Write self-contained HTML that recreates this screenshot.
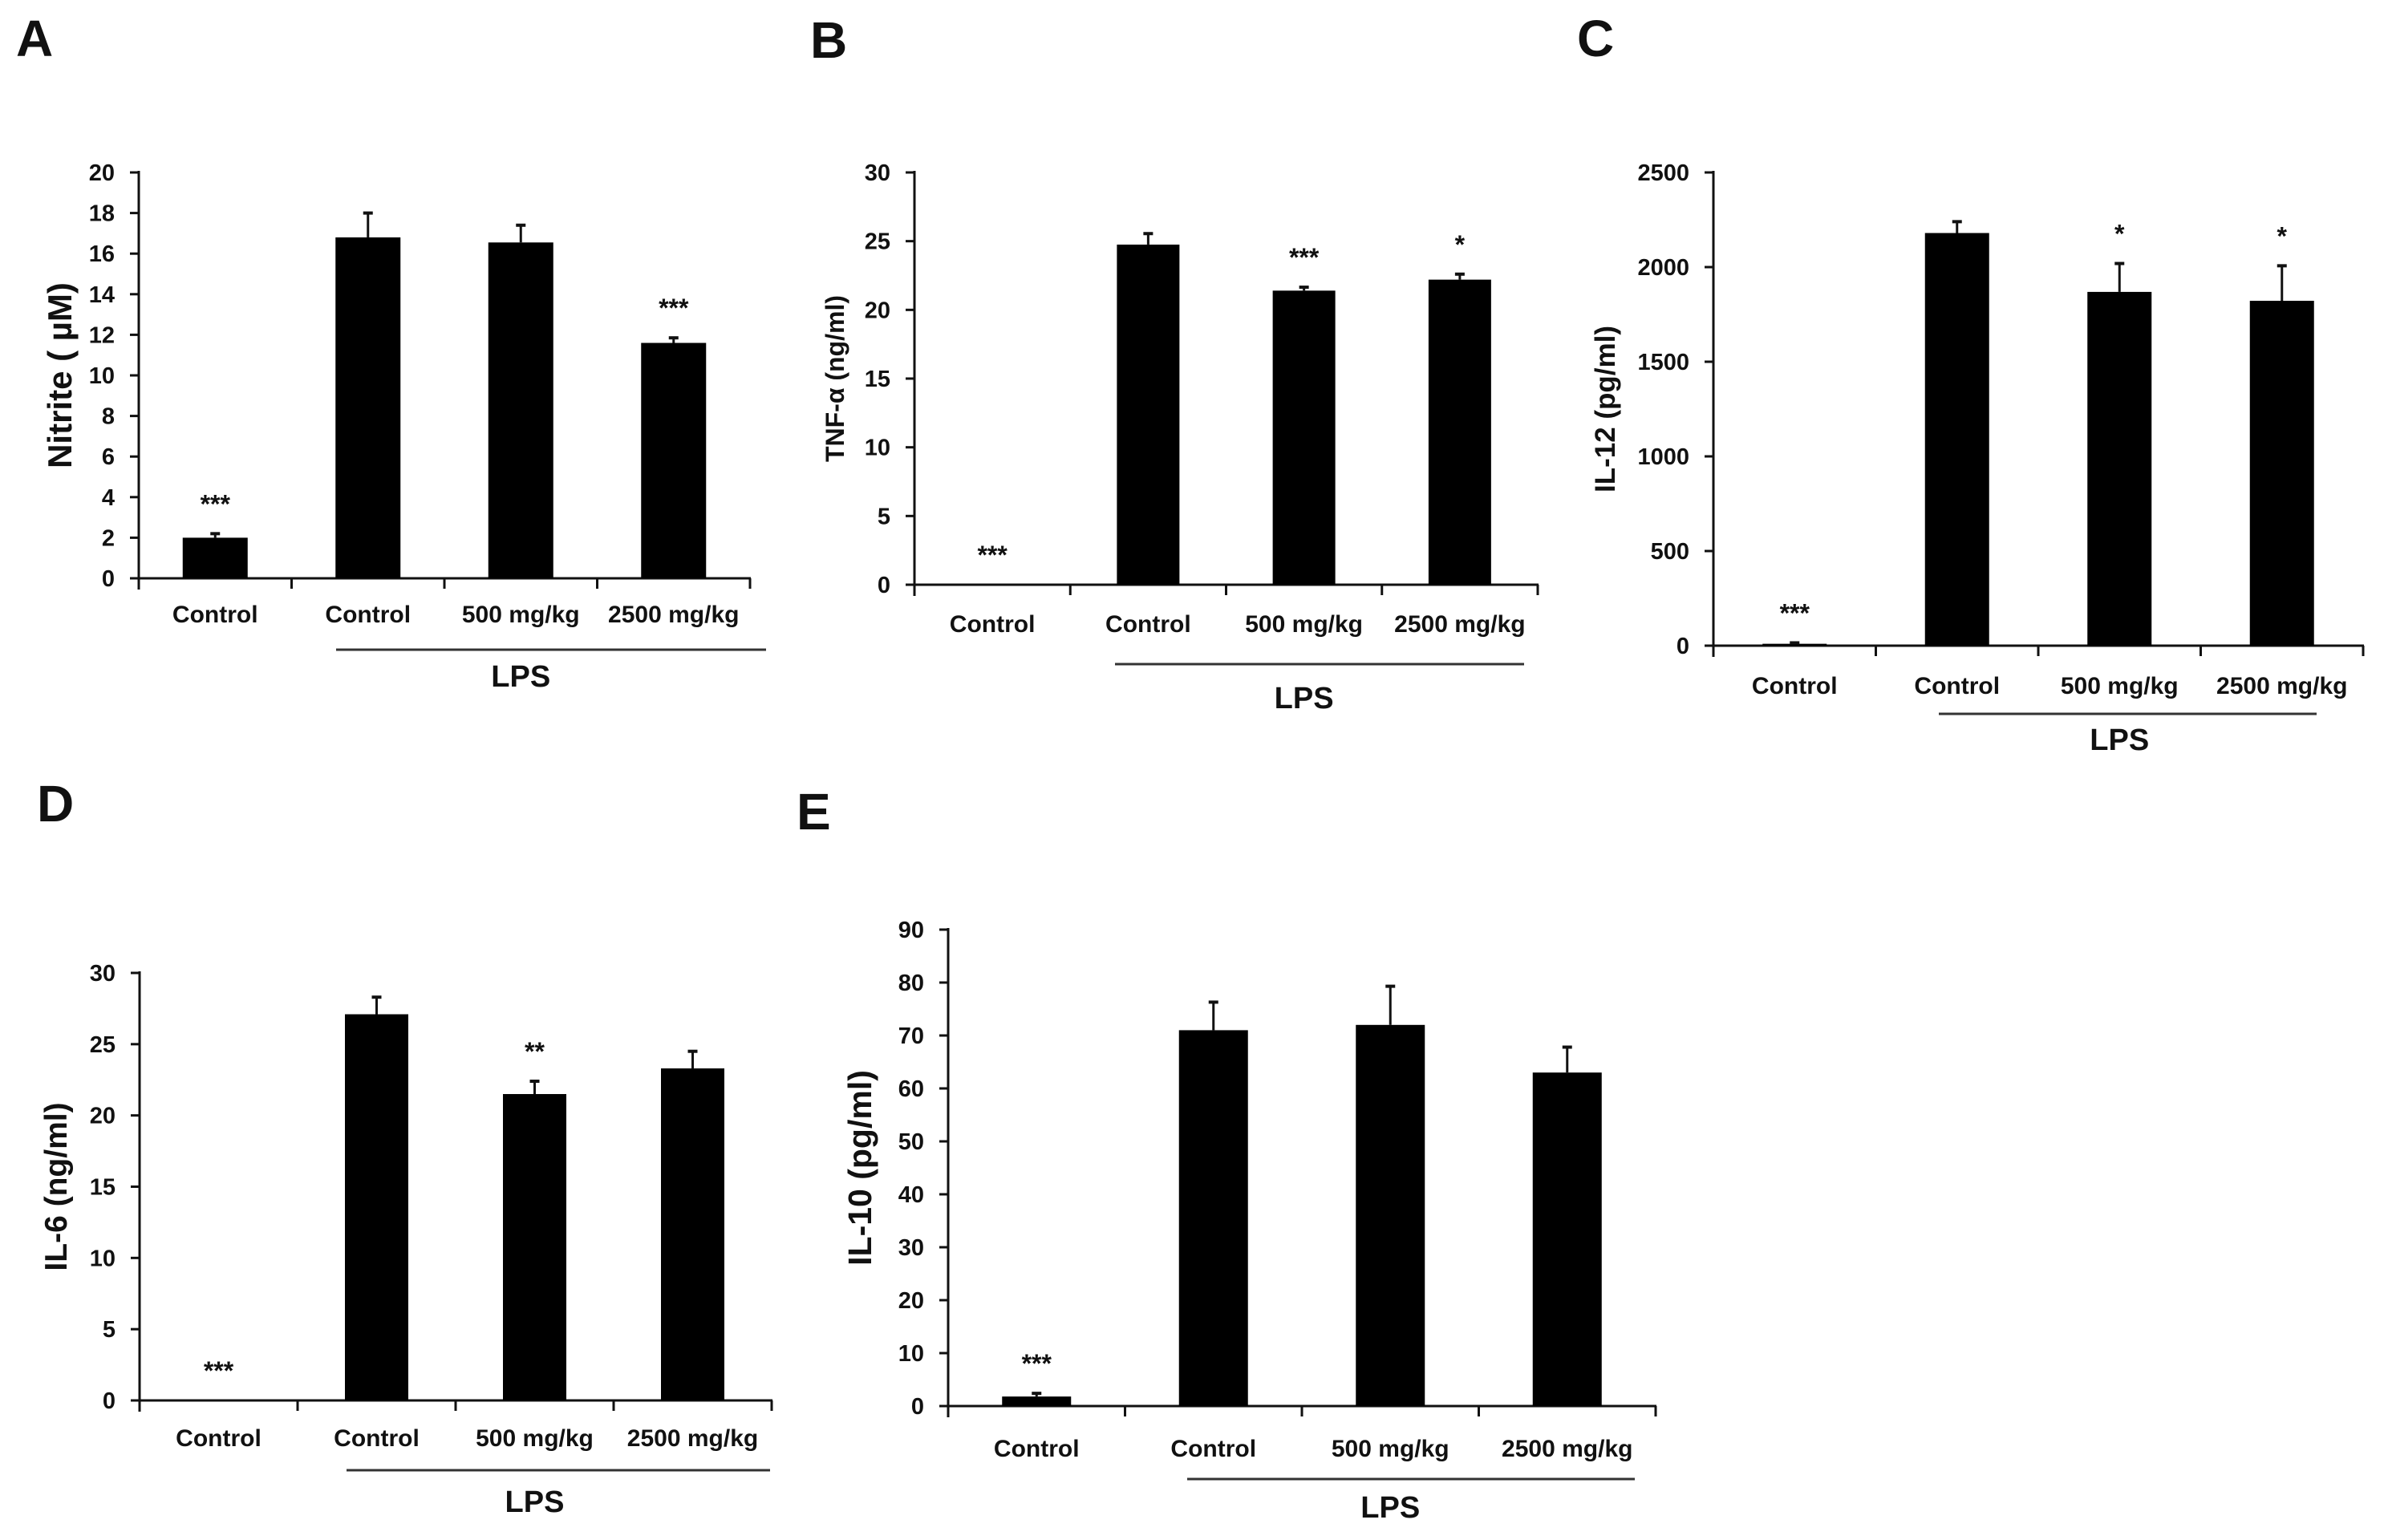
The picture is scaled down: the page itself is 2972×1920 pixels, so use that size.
<!DOCTYPE html>
<html><head><meta charset="utf-8"><title>Cytokine panels</title>
<style>
html,body{margin:0;padding:0;background:#fff;}
svg{display:block;}
text{font-family:"Liberation Sans",Arial,sans-serif;font-weight:bold;fill:#111;}
</style></head>
<body>
<svg id="fig" xmlns="http://www.w3.org/2000/svg" width="2972" height="1920" viewBox="0 0 2972 1920"></svg>
<script>
// ----- data -----
const categories = ["Control", "Control", "500 mg/kg", "2500 mg/kg"];
const groupLabel = "LPS";

const nitriteValues = [2.0, 16.8, 16.55, 11.6];
const nitriteErrors = [0.2, 1.2, 0.85, 0.25];
const nitriteStars = ["***", "", "", "***"];
const nitriteTicks = [0, 2, 4, 6, 8, 10, 12, 14, 16, 18, 20];

const tnfValues = [0, 24.75, 21.4, 22.2];
const tnfErrors = [0, 0.8, 0.25, 0.4];
const tnfStars = ["***", "", "***", "*"];
const tnfTicks = [0, 5, 10, 15, 20, 25, 30];

const il12Values = [10, 2180, 1869, 1822];
const il12Errors = [5, 60, 150, 185];
const il12Stars = ["***", "", "*", "*"];
const il12Ticks = [0, 500, 1000, 1500, 2000, 2500];

const il6Values = [0, 27.1, 21.5, 23.3];
const il6Errors = [0, 1.2, 0.9, 1.2];
const il6Stars = ["***", "", "**", ""];
const il6Ticks = [0, 5, 10, 15, 20, 25, 30];

const il10Values = [1.8, 71, 72, 63];
const il10Errors = [0.6, 5.3, 7.3, 4.8];
const il10Stars = ["***", "", "", ""];
const il10Ticks = [0, 10, 20, 30, 40, 50, 60, 70, 80, 90];

// ----- layout -----
const panels = [
  {id:"a", letter:"A", lx:20, ly:70, title:"Nitrite ( \u00b5M)", titleX:77, titleSize:42,
   x0:173, x1:935, y0:721, y1:215, barW:81, values:nitriteValues, errors:nitriteErrors, stars:nitriteStars, ticks:nitriteTicks,
   labelY:776, lpsY:810, lpsX0:419, lpsX1:955, lpsTextY:856},
  {id:"b", letter:"B", lx:1010, ly:72, title:"TNF-\u03b1 (ng/ml)", titleX:1040, titleSize:32,
   x0:1140, x1:1917, y0:729, y1:215, barW:78, values:tnfValues, errors:tnfErrors, stars:tnfStars, ticks:tnfTicks,
   labelY:788, lpsY:828, lpsX0:1390, lpsX1:1900, lpsTextY:883},
  {id:"c", letter:"C", lx:1966, ly:70, title:"IL-12 (pg/ml)", titleX:2001, titleSize:35,
   x0:2136, x1:2946, y0:805, y1:215, barW:80, values:il12Values, errors:il12Errors, stars:il12Stars, ticks:il12Ticks,
   labelY:865, lpsY:890, lpsX0:2417, lpsX1:2888, lpsTextY:935},
  {id:"d", letter:"D", lx:46, ly:1024, title:"IL-6 (ng/ml)", titleX:71, titleSize:39,
   x0:174, x1:962, y0:1746, y1:1213, barW:79, values:il6Values, errors:il6Errors, stars:il6Stars, ticks:il6Ticks,
   labelY:1803, lpsY:1833, lpsX0:432, lpsX1:960, lpsTextY:1885},
  {id:"e", letter:"E", lx:993, ly:1034, title:"IL-10 (pg/ml)", titleX:1074, titleSize:41,
   x0:1182, x1:2064, y0:1753, y1:1159, barW:86, values:il10Values, errors:il10Errors, stars:il10Stars, ticks:il10Ticks,
   labelY:1816, lpsY:1844, lpsX0:1480, lpsX1:2038, lpsTextY:1892}
];

const NS = "http://www.w3.org/2000/svg";
const svg = document.getElementById("fig");
function mk(tag, attrs, parent){
  const e = document.createElementNS(NS, tag);
  for (const k in attrs) e.setAttribute(k, attrs[k]);
  (parent||svg).appendChild(e);
  return e;
}

panels.forEach(p => {
  const g = mk("g", {});
  
  
  const maxT = p.ticks[p.ticks.length-1];
  const yScale = v => p.y0 - (v / maxT) * (p.y0 - p.y1);
  const catW = (p.x1 - p.x0) / categories.length;
  const xCenter = i => p.x0 + catW * (i + 0.5);

  const letter = mk("text", {x:p.lx, y:p.ly, "font-size":64}, g);
  letter.textContent = p.letter;
  
  

  // y axis
  const ya = mk("line", {x1:p.x0, y1:p.y1-2, x2:p.x0, y2:p.y0+14, stroke:"#111", "stroke-width":3}, g);
  
  
  p.ticks.forEach(t => {
    const y = yScale(t);
    const tk = mk("line", {x1:p.x0-11, y1:y, x2:p.x0, y2:y, stroke:"#111", "stroke-width":3}, g);
    
    
    const tl = mk("text", {x:p.x0-30, y:y+10, "font-size":29, "text-anchor":"end"}, g);
    tl.textContent = t;
    
    
  });
  const ty = (p.y0 + p.y1) / 2;
  const title = mk("text", {x:p.titleX, y:ty, "font-size":p.titleSize, "text-anchor":"middle", transform:"rotate(-90 "+p.titleX+" "+ty+") translate(0 12)"}, g);
  title.textContent = p.title;
  
  

  // x axis
  const xa = mk("line", {x1:p.x0, y1:p.y0, x2:p.x1+1, y2:p.y0, stroke:"#111", "stroke-width":3}, g);
  
  
  for (let i = 1; i <= categories.length; i++) {
    const x = p.x0 + catW * i;
    const tk = mk("line", {x1:x, y1:p.y0, x2:x, y2:p.y0+13, stroke:"#111", "stroke-width":3}, g);
    
    
  }

  categories.forEach((c, i) => {
    const cx = xCenter(i);
    const v = p.values[i], e = p.errors[i];
    if (v > 0) {
      const top = yScale(v);
      const bar = mk("rect", {x:cx - p.barW/2, y:top, width:p.barW, height:p.y0 - top, fill:"#000"}, g);
      
      
    }
    let starBase = yScale(v) - 40;
    if (e > 0) {
      const et = yScale(v + e);
      const eb = mk("line", {x1:cx, y1:yScale(v), x2:cx, y2:et, stroke:"#111", "stroke-width":3}, g);
      
      
      const cap = mk("line", {x1:cx-6, y1:et, x2:cx+6, y2:et, stroke:"#111", "stroke-width":4}, g);
      
      
      starBase = et - 40;
    }
    if (p.stars[i]) {
      const st = mk("text", {x:cx, y:starBase + 14, "font-size":32, "text-anchor":"middle", fill:"#222"}, g);
      st.textContent = p.stars[i];
      
      
    }
    const lb = mk("text", {x:cx, y:p.labelY, "font-size":30, "text-anchor":"middle", fill:"#222"}, g);
    lb.textContent = c;
    
    
  });

  const lps = mk("line", {x1:p.lpsX0, y1:p.lpsY, x2:p.lpsX1, y2:p.lpsY, stroke:"#333", "stroke-width":3}, g);
  
  
  const lt = mk("text", {x:(xCenter(1)+xCenter(3))/2, y:p.lpsTextY, "font-size":38, "text-anchor":"middle"}, g);
  lt.textContent = groupLabel;
  
  
});
</script>
</body></html>
